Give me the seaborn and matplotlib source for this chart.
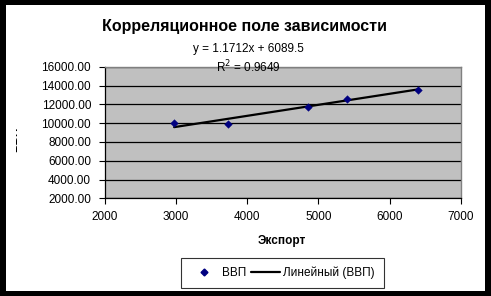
import numpy as np
import pandas as pd
import matplotlib
matplotlib.use("Agg")
import matplotlib.pyplot as plt
import seaborn as sns
from matplotlib.patches import Rectangle
from matplotlib.lines import Line2D

export = [2972, 3723, 4853, 5408, 6399]
gdp = [10000, 9950, 11725, 12580, 13510]
slope = 1.1712
intercept = 6089.5
r2 = 0.9649
xticks = [2000, 3000, 4000, 5000, 6000, 7000]
yticks = [2000, 4000, 6000, 8000, 10000, 12000, 14000, 16000]

sns.set_style("white")
plt.rcParams['font.family'] = ['Liberation Sans', 'DejaVu Sans']
plt.rcParams.update({"text.color": "black", "axes.labelcolor": "black",
                     "xtick.color": "black", "ytick.color": "black"})

W, H = 491, 296
fig = plt.figure(figsize=(W / 100, H / 100), dpi=100)
fig.patch.set_facecolor("black")
fig.patches.append(Rectangle((6 / W, 1 - 291 / H), (485 - 6) / W, (291 - 5) / H,
                             transform=fig.transFigure, facecolor="white",
                             edgecolor="none", zorder=-5))

ax = fig.add_axes([105 / W, 1 - 198.3 / H, (460.7 - 105) / W, (198.3 - 66.7) / H])
ax.set_zorder(1)
ax.set_facecolor("#C0C0C0")

df = pd.DataFrame({"Экспорт": export, "ВВП": gdp})
tx = np.array([min(export), max(export)])
tdf = pd.DataFrame({"x": tx, "y": slope * tx + intercept})

for yv in yticks:
    ax.axhline(yv, color="black", lw=0.9, zorder=1)

sns.lineplot(data=tdf, x="x", y="y", ax=ax, color="black", lw=1.6, zorder=3)
sns.scatterplot(data=df, x="Экспорт", y="ВВП", ax=ax, marker="D", s=15,
                color="#000080", edgecolor="#000080", zorder=4)

ax.set_xlim(2000, 7000)
ax.set_ylim(2000, 16000)
ax.set_xticks(xticks)
ax.set_yticks(yticks)
ax.set_yticklabels([f"{v:.2f}" for v in yticks])
ax.tick_params(axis="both", direction="out", length=4, width=0.8, color="black",
               labelsize=8.5, left=True, bottom=True)
ax.tick_params(axis="y", pad=6)
ax.tick_params(axis="x", pad=5)
ax.set_xlabel("")
ax.set_ylabel("")
for side in ["top", "right"]:
    ax.spines[side].set_color("#808080")
    ax.spines[side].set_linewidth(1.0)
for side in ["left", "bottom"]:
    ax.spines[side].set_color("black")
    ax.spines[side].set_linewidth(0.9)

fig.text(245 / W, 1 - 27 / H, "Корреляционное поле зависимости", ha="center",
         va="center", fontsize=11.5, fontweight="bold")
fig.text(248 / W, 1 - 49 / H, f"y = {slope:.4f}x + {intercept:.1f}", ha="center",
         va="center", fontsize=8.5)
fig.text(248 / W, 1 - 67 / H, f"R$^2$ = {r2:.4f}", ha="center", va="center",
         fontsize=8.5, zorder=5)
fig.text(282 / W, 1 - 241 / H, "Экспорт", ha="center", va="center",
         fontsize=8.5, fontweight="bold")

# y-axis label, mostly hidden as in the reference
fig.text(20 / W, 1 - 139 / H, "ВВП", ha="right", va="center", rotation=90,
         fontsize=8.5, fontweight="bold")
fig.patches.append(Rectangle((6 / W, 1 - 160 / H), 10 / W, 40 / H,
                             transform=fig.transFigure, facecolor="white",
                             edgecolor="none", zorder=10))

handles = [Line2D([], [], marker="D", ls="none", color="#000080", markersize=3.5),
           Line2D([], [], color="black", lw=1.6)]
leg = fig.legend(handles, ["ВВП", "Линейный (ВВП)"], loc="center",
                 bbox_to_anchor=(282.5 / W, 1 - 273 / H), ncol=2, fontsize=8.5,
                 frameon=True, fancybox=False, edgecolor="black",
                 handlelength=2.4, columnspacing=0.4, handletextpad=0.3,
                 borderpad=0.75)
leg.get_frame().set_linewidth(0.8)

fig.savefig("out.png", dpi=100, facecolor=fig.get_facecolor())
